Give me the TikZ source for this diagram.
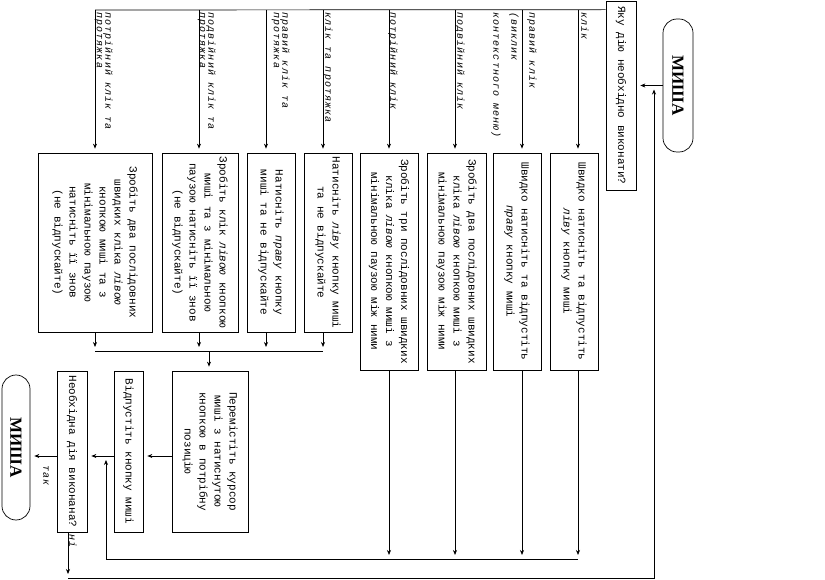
\documentclass[tikz,border=0pt]{standalone}
\usepackage{fontspec}
\setmainfont{Liberation Serif}
\newfontfamily\boxfont{Liberation Mono}
\newfontfamily\lblfont[LetterSpace=11]{Liberation Mono}
\usetikzlibrary{arrows.meta}
\tikzset{
  box/.style={draw, rotate=-90, inner sep=0pt, align=center,
    font={\boxfont\fontsize{11}{15}\selectfont}},
  term/.style={draw, rotate=-90, rounded corners=14pt, inner sep=0pt,
    font={\bfseries\fontsize{17}{20}\selectfont}},
  lbl/.style={rotate=-90, inner sep=0pt, anchor=north west, align=left,
    font={\lblfont\itshape\fontsize{10}{8.5}\selectfont}},
  arr/.style={-{Stealth[length=5pt,width=4pt]}, shorten >=4pt},
}
\begin{document}
\begin{tikzpicture}[x=1pt, y=-1pt, line width=0.7pt]
\useasboundingbox (0,0) rectangle (825,580);

% nodes
\node[term, minimum width=133pt, minimum height=30pt] (start) at (678,85.5) {МИША};
\node[box, minimum width=189pt, minimum height=30pt] (q1) at (621,95.5) {Яку дію необхідно виконати?};

\node[box, minimum width=217pt, minimum height=48pt] (b1) at (574,261.5)
  {Швидко натисніть та відпустіть\\{\itshape ліву} кнопку миші};
\node[box, minimum width=217pt, minimum height=48pt] (b2) at (517,261.5)
  {Швидко натисніть та відпустіть\\{\itshape праву} кнопку миші};
\node[box, minimum width=217pt, minimum height=59pt] (b3) at (456.5,261.5)
  {Зробіть два послідовних швидких\\кліка {\itshape лівою} кнопкою миші з\\мінімальною паузою між ними};
\node[box, minimum width=217pt, minimum height=58pt] (b4) at (389,261.5)
  {Зробіть три послідовних швидких\\кліка {\itshape лівою} кнопкою миші з\\мінімальною паузою між ними};

\node[box, minimum width=179pt, minimum height=48pt] (bA) at (328,242.5)
  {Натисніть {\itshape ліву} кнопку миші\\та не відпускайте};
\node[box, minimum width=179pt, minimum height=48pt] (bB) at (271,242.5)
  {Натисніть {\itshape праву} кнопку\\миші та не відпускайте};
\node[box, minimum width=179pt, minimum height=76pt] (bC) at (200,242.5)
  {Зробіть клік {\itshape лівою} кнопкою\\миші та з мінімальною\\паузою натисніть її знов\\(не відпускайте)};
\node[box, minimum width=179pt, minimum height=114pt] (bD) at (95,242.5)
  {Зробіть два послідовних\\швидких кліка {\itshape лівою}\\кнопкою миші та з\\мінімальною паузою\\натисніть її знов\\(не відпускайте)};

\node[box, minimum width=161pt, minimum height=76pt] (P) at (210,451.5)
  {Перемістіть курсор\\миші з натиснутою\\кнопкою в потрібну\\позицію};
\node[box, minimum width=161pt, minimum height=29pt] (Q) at (128.5,451.5) {Відпустіть кнопку миші};
\node[box, minimum width=161pt, minimum height=30pt] (R) at (72,451.5) {Необхідна дія виконана?};
\node[term, minimum width=145pt, minimum height=28pt] (end) at (16,447.5) {МИША};

% labels
\node[lbl] (L1) at (589,12) {клік};
\node[lbl, font={\lblfont\itshape\fontsize{10}{18}\selectfont}] (L2) at (537,12) {правий клік\\(виклик\\контекстного меню)};
\node[lbl] (L3) at (465,12) {подвійний клік};
\node[lbl] (L4) at (398,12) {потрійний клік};
\node[lbl] (L5) at (333,12) {клік та протяжка};
\node[lbl] (L6) at (290,12) {правий клік та\\протяжка};
\node[lbl] (L7) at (216,12) {подвійний клік та\\протяжка};
\node[lbl] (L8) at (113,12) {потрійний клік та\\протяжка};
\node[lbl] (yes) at (49,465) {так};
\node[lbl] (no) at (77,534) {ні};

% coordinates
\foreach \n/\x in {1/578,2/522,3/455,4/389,5/323,6/266,7/199,8/95}
  \coordinate (t\n) at (\x,10);
\foreach \n/\x in {1/578,2/522,3/455,4/389}
  \coordinate (m\n) at (\x,559);
\coordinate (mj) at (106,559);
\coordinate (jq) at (106,456);
\foreach \n/\x in {5/323,6/266,7/199,8/95}
  \coordinate (n\n) at (\x,351);
\coordinate (n0) at (209,351);
\coordinate (ly) at (0,456);
\coordinate (lo) at (68,578);
\coordinate (lr) at (654,578);

% start -> question
\draw[arr] (start.south) -- (start.south -| q1.north);
% top bus
\draw ([yshift=-9pt]q1.south west) -- (t8);
\draw[arr] (t1) -- (t1 |- b1.west);
\draw[arr] (t2) -- (t2 |- b2.west);
\draw[arr] (t3) -- (t3 |- b3.west);
\draw[arr] (t4) -- (t4 |- b4.west);
\draw[arr] (t5) -- (t5 |- bA.west);
\draw[arr] (t6) -- (t6 |- bB.west);
\draw[arr] (t7) -- (t7 |- bC.west);
\draw[arr] (t8) -- (t8 |- bD.west);

% row 1 merge
\draw[arr] (b1.east -| m1) -- (m1);
\draw[arr] (b2.east -| m2) -- (m2);
\draw[arr] (b3.east -| m3) -- (m3);
\draw[arr] (b4.east -| m4) -- (m4);
\draw (m1) -- (mj);
\draw[arr] (mj) -- (jq);

% row 2 merge
\draw[arr] (bA.east -| n5) -- (n5);
\draw[arr] (bB.east -| n6) -- (n6);
\draw[arr] (bC.east -| n7) -- (n7);
\draw[arr] (bD.east -| n8) -- (n8);
\draw (n8) -- (n5);
\draw[arr] (n0) -- (n0 |- P.west);

% bottom chain
\draw[arr] (P.south |- ly) -- (Q.north |- ly);
\draw[arr] (Q.south |- ly) -- (R.north |- ly);
\draw[arr] (R.south |- ly) -- (end.north |- ly);

% loop back
\draw[arr] (R.east -| lo) -- (lo);
\draw[arr] (lo) -- (lr) -- (lr |- start.south);
\end{tikzpicture}
\end{document}
